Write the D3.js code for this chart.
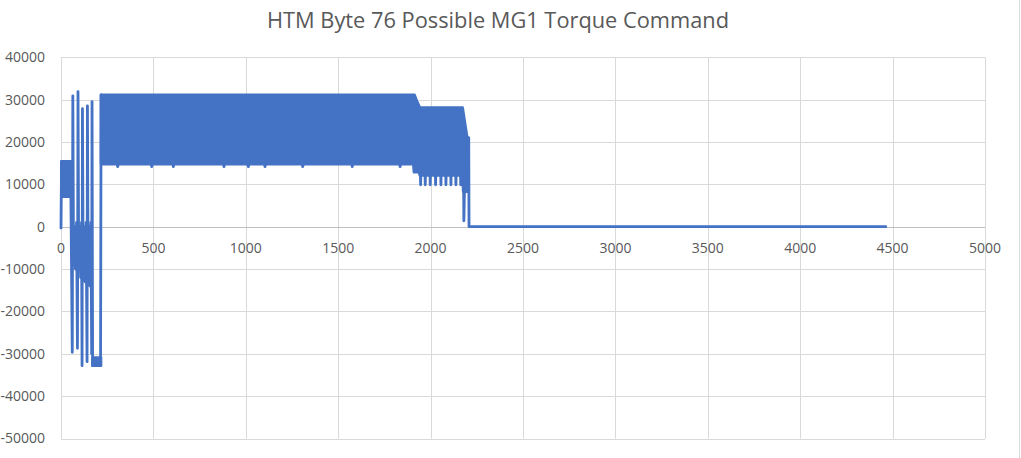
<!DOCTYPE html>
<html>
<head>
<meta charset="utf-8">
<script src="https://cdn.jsdelivr.net/npm/d3@7"></script>
<style>
  body { margin: 0; background: #fff; }
  text { font-family: "Open Sans", sans-serif; fill: #595959; }
</style>
</head>
<body>
<div id="chart"></div>
<script>
// size of chart
const width = 1021;
const height = 458;

// tick labels
const xTicks = [0, 500, 1000, 1500, 2000, 2500, 3000, 3500, 4000, 4500, 5000];
const yTicks = [-50000, -40000, -30000, -20000, -10000, 0, 10000, 20000, 30000, 40000];

// sparse parts of the trace
const leadX = [0, 3, 6];
const leadY = [-300, 15400, 15400];

const spikeX = [52, 61, 64, 68, 73, 78, 84, 89, 92, 96, 101, 106, 111, 114, 116, 120, 125, 130, 136, 141, 143, 147, 152, 157, 162, 166, 168, 171];
const spikeY = [15400, -29650, 30900, -9000, 0, -10000, 1000, -28700, 31900, -10000, 0, -12000, 1000, -32800, 27850, -11000, 0, -13000, 1000, -31850, 28550, -12000, 0, -14000, 1000, -30000, 29550, -32800];

const riseX = [214, 217];
const riseY = [-32800, 31100];

const tailX = [2179, 2180, 2183, 2206, 2208, 4463];
const tailY = [8200, 1400, 8200, 21000, 0, 0];

// dense parts of the trace, drawn as their upper / lower envelope
const bandATopX = [3, 52];
const bandATopY = [15400, 15400];
const bandABotX = [3, 52];
const bandABotY = [7100, 7100];

const bandBTopX = [171, 216];
const bandBTopY = [-30900, -30900];
const bandBBotX = [171, 216];
const bandBBotY = [-32800, -32800];

const mainTopX = [217, 1913, 1928, 1942, 2173, 2198, 2206];
const mainTopY = [31100, 31100, 29400, 28100, 28100, 21000, 21000];
const mainBotX = [217, 304, 307, 310, 488, 491, 494, 605, 608, 611, 879, 882, 885, 1011, 1014, 1017,
  1101, 1104, 1107, 1305, 1308, 1311, 1573, 1576, 1579, 1832, 1835, 1838, 1907, 1910, 1938, 1942,
  1945, 1946, 1947, 1970, 1971, 1972, 1997, 1998, 1999, 2026, 2027, 2028, 2055, 2056, 2057,
  2082, 2083, 2084, 2109, 2110, 2111, 2136, 2137, 2138, 2162, 2163, 2164, 2173, 2177, 2206];
const mainBotY = [14800, 14800, 14200, 14800, 14800, 14200, 14800, 14800, 14200, 14800, 14800, 14200, 14800, 14800, 14200, 14800,
  14800, 14200, 14800, 14800, 14200, 14800, 14800, 14200, 14800, 14800, 14200, 14800, 14800, 12900, 12900, 12100,
  12100, 9900, 12100, 12100, 9900, 12100, 12100, 9900, 12100, 12100, 9900, 12100, 12100, 9900, 12100,
  12100, 9900, 12100, 12100, 9900, 12100, 12100, 9900, 12100, 12100, 9900, 12100, 12100, 8300, 8300];

const svg = d3.select("#chart")
  .append("svg")
  .attr("width", width)
  .attr("height", height);

// scales
const x = d3.scaleLinear().domain([0, 5000]).range([61, 985]);
const y = d3.scaleLinear().domain([-50000, 40000]).range([438.5, 57.3]);

// outer border on the right
svg.append("line")
  .attr("x1", 1019.5).attr("x2", 1019.5)
  .attr("y1", 0).attr("y2", height)
  .attr("stroke", "#d9d9d9");

// grid lines
svg.append("g")
  .selectAll("line")
  .data(yTicks)
  .enter().append("line")
    .attr("x1", x(0)).attr("x2", x(5000))
    .attr("y1", d => Math.round(y(d)) + 0.5)
    .attr("y2", d => Math.round(y(d)) + 0.5)
    .attr("stroke", "#d9d9d9");

svg.append("g")
  .selectAll("line")
  .data(xTicks)
  .enter().append("line")
    .attr("x1", d => Math.round(x(d)) + 0.5)
    .attr("x2", d => Math.round(x(d)) + 0.5)
    .attr("y1", y(40000)).attr("y2", y(-50000))
    .attr("stroke", "#d9d9d9");

// horizontal axis at zero
svg.append("line")
  .attr("x1", x(0)).attr("x2", x(5000))
  .attr("y1", Math.round(y(0)) + 0.5).attr("y2", Math.round(y(0)) + 0.5)
  .attr("stroke", "#bfbfbf");

// series
const blue = "#4472c4";
const line = d3.line().x(d => x(d[0])).y(d => y(d[1]));
const pts = (xs, ys) => xs.map((v, i) => [v, ys[i]]);

const bands = [
  [bandATopX, bandATopY, bandABotX, bandABotY],
  [bandBTopX, bandBTopY, bandBBotX, bandBBotY],
  [mainTopX, mainTopY, mainBotX, mainBotY]
];

const series = svg.append("g")
  .attr("stroke", blue)
  .attr("stroke-width", 2.8)
  .attr("stroke-linejoin", "round")
  .attr("stroke-linecap", "round");

series.selectAll("path.band")
  .data(bands)
  .enter().append("path")
    .attr("class", "band")
    .attr("fill", blue)
    .attr("d", b => line(pts(b[0], b[1]).concat(pts(b[2], b[3]).reverse())) + "Z");

series.selectAll("path.trace")
  .data([pts(leadX, leadY), pts(spikeX, spikeY), pts(riseX, riseY), pts(tailX, tailY)])
  .enter().append("path")
    .attr("class", "trace")
    .attr("fill", "none")
    .attr("d", line);

// tick labels
svg.append("g")
  .selectAll("text")
  .data(yTicks)
  .enter().append("text")
    .attr("x", 45)
    .attr("y", d => y(d))
    .attr("dy", "0.35em")
    .attr("text-anchor", "end")
    .attr("font-size", 14)
    .text(d => d);

svg.append("g")
  .selectAll("text")
  .data(xTicks)
  .enter().append("text")
    .attr("x", d => x(d))
    .attr("y", y(0) + 21)
    .attr("dy", "0.35em")
    .attr("text-anchor", "middle")
    .attr("font-size", 14)
    .text(d => d);

// title
svg.append("text")
  .attr("x", 498)
  .attr("y", 28)
  .attr("text-anchor", "middle")
  .attr("font-size", 21.8)
  .text("HTM Byte 76 Possible MG1 Torque Command");
</script>
</body>
</html>
